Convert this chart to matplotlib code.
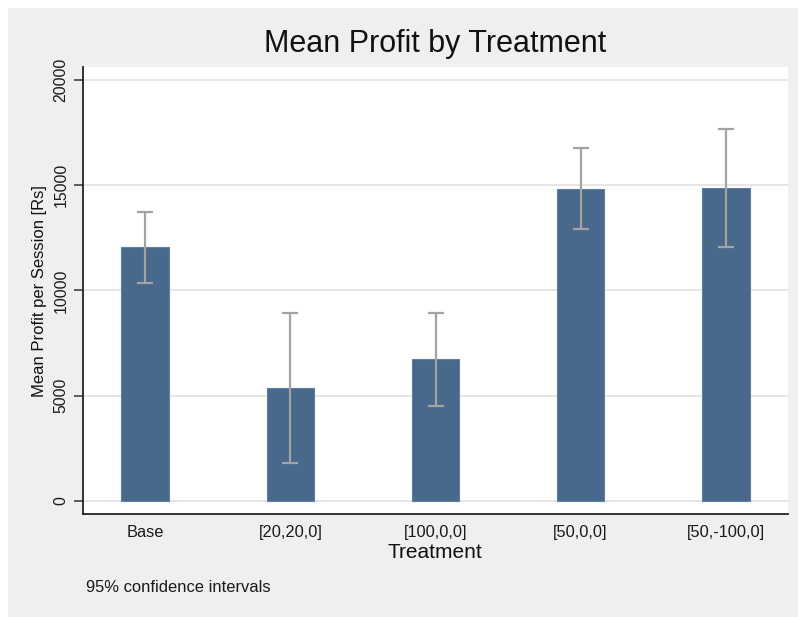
import matplotlib
matplotlib.use("Agg")
import matplotlib.pyplot as plt
from matplotlib.patches import Rectangle

# mean profit per session and 95% CI bounds, by treatment
tratamentos = ["Base", "[20,20,0]", "[100,0,0]", "[50,0,0]", "[50,-100,0]"]
media_lucro = [12050, 5350, 6730, 14820, 14860]
ic_inferior = [10340, 1790, 4515, 12905, 12065]
ic_superior = [13745, 8930, 8915, 16785, 17655]
y_ticks = [0, 5000, 10000, 15000, 20000]

plt.rcParams["font.family"] = ["Liberation Sans", "DejaVu Sans"]

fig = plt.figure(figsize=(7.98, 6.17), dpi=100, facecolor="white")
fig.patches.append(Rectangle((8 / 798, 0), 1, 1 - 8 / 617,
                             transform=fig.transFigure, facecolor="#EFEFEF",
                             edgecolor="none", zorder=-10))

ax = fig.add_axes([83 / 798, 103 / 617, 705 / 798, 447 / 617])
ax.set_facecolor("white")

posicoes = list(range(len(tratamentos)))
ax.bar(posicoes, media_lucro, width=0.33, color="#48698B",
       edgecolor="#5F7F9E", linewidth=0.8, zorder=2)

erro_baixo = [m - lo for m, lo in zip(media_lucro, ic_inferior)]
erro_cima = [hi - m for m, hi in zip(media_lucro, ic_superior)]
ax.errorbar(posicoes, media_lucro, yerr=[erro_baixo, erro_cima], fmt="none",
            ecolor="#A3A3A3", elinewidth=1.6, capsize=5.5, capthick=1.6,
            zorder=3)

ax.set_xlim(-0.43, 4.43)
ax.set_ylim(-618, 20618)
ax.set_xticks(posicoes)
ax.set_xticklabels(tratamentos, fontsize=11.8, color="#1a1a1a")
ax.set_yticks(y_ticks)
ax.set_yticklabels([str(v) for v in y_ticks], fontsize=11.4,
                   rotation=90, va="center", color="#1a1a1a")
ax.tick_params(axis="x", length=0, pad=8)
ax.tick_params(axis="y", length=6.5, width=1.1, pad=4, color="#333333")

ax.yaxis.grid(True, color="#E6E6E6", linewidth=1.4, zorder=0)
ax.set_axisbelow(True)
for lado in ["top", "right"]:
    ax.spines[lado].set_visible(False)
for lado in ["left", "bottom"]:
    ax.spines[lado].set_linewidth(1.3)
    ax.spines[lado].set_color("#222222")

fig.text(435 / 798, 1 - 44 / 617, "Mean Profit by Treatment",
         fontsize=22, ha="center", va="center", color="#111111")
fig.text(435 / 798, 1 - 552 / 617, "Treatment",
         fontsize=15, ha="center", va="center", color="#111111")
fig.text(40 / 798, 1 - 291 / 617, "Mean Profit per Session [Rs]",
         fontsize=12, rotation=90, ha="center", va="center", color="#111111")
fig.text(86 / 798, 1 - 587 / 617, "95% confidence intervals",
         fontsize=11.9, ha="left", va="center", color="#1a1a1a")

fig.savefig("out.png", dpi=100)
